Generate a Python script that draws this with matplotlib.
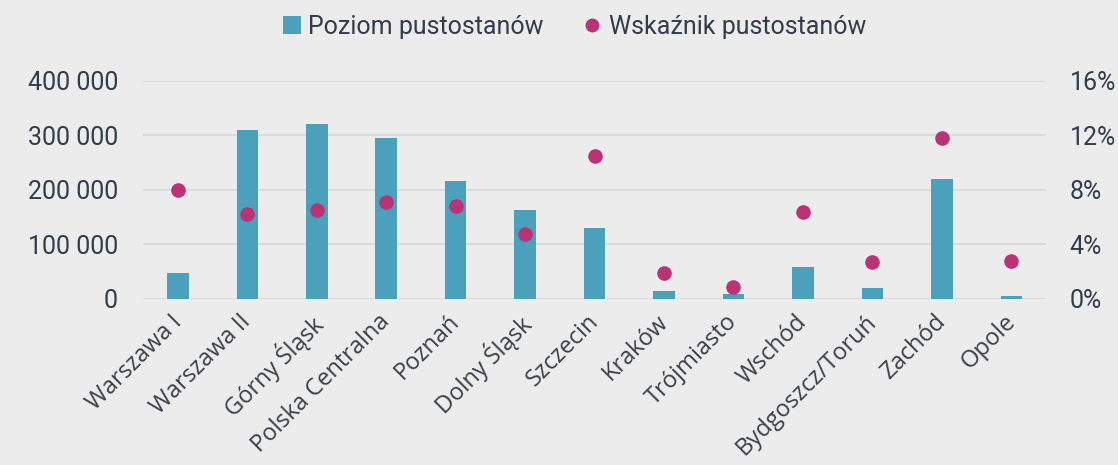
import numpy as np
import matplotlib.pyplot as plt
import matplotlib.transforms as mtransforms
from matplotlib.ticker import FuncFormatter
from matplotlib.lines import Line2D
from matplotlib.patches import Patch

regions = ['Warszawa I', 'Warszawa II', 'Górny Śląsk', 'Polska Centralna', 'Poznań',
           'Dolny Śląsk', 'Szczecin', 'Kraków', 'Trójmiasto', 'Wschód',
           'Bydgoszcz/Toruń', 'Zachód', 'Opole']
vacancy_level = [48000, 310000, 321000, 296000, 216000, 163000, 130000,
                 15000, 10000, 59000, 20000, 220000, 6000]
vacancy_rate = [8.0, 6.2, 6.5, 7.1, 6.8, 4.8, 10.5, 1.9, 0.9, 6.4, 2.7, 11.8, 2.8]

BG = '#ececec'
BAR = '#4ba1bb'
DOT = '#bb3275'
TXT = '#323d4b'
num_font = ['Roboto', 'DejaVu Sans']
lab_font = ['Open Sans', 'DejaVu Sans']

fig = plt.figure(figsize=(11.18, 4.65), dpi=100, facecolor=BG)
ax = fig.add_axes([0.128, 0.357, 0.8076, 0.469])
ax.set_facecolor(BG)
ax2 = ax.twinx()

x = np.arange(len(regions))
ax.bar(x, vacancy_level, width=0.31, color=BAR, zorder=3)
ax2.scatter(x, vacancy_rate, s=110, color=DOT, zorder=4, linewidths=0)

ax.set_xlim(-0.5, len(regions) - 0.5)
ax.set_ylim(0, 400000)
ax2.set_ylim(0, 16)
ax.set_yticks(np.arange(0, 400001, 100000))
ax2.set_yticks(np.arange(0, 17, 4))
ax.yaxis.set_major_formatter(FuncFormatter(lambda v, p: f'{int(v):,}'.replace(',', ' ')))
ax2.yaxis.set_major_formatter(FuncFormatter(lambda v, p: f'{int(v)}%'))

ax.grid(axis='y', color='#d8d8d8', linewidth=1.2, zorder=0)
for a in (ax, ax2):
    for s in a.spines.values():
        s.set_visible(False)
    a.tick_params(length=0, colors=TXT)
ax.tick_params(axis='y', pad=18)
ax2.tick_params(axis='y', pad=17)
for lbl in ax.get_yticklabels() + ax2.get_yticklabels():
    lbl.set_fontfamily(num_font)
    lbl.set_fontsize(18)
    lbl.set_color(TXT)

ax.set_xticks(x)
ax.set_xticklabels(regions, rotation=45, ha='right', rotation_mode='anchor',
                   family=lab_font, fontsize=17, color='#3a3f48')
ax.tick_params(axis='x', pad=8)
shift = mtransforms.ScaledTranslation(-8 / 100, 0, fig.dpi_scale_trans)
for lbl in ax.get_xticklabels():
    lbl.set_transform(lbl.get_transform() + shift)

handles = [Patch(facecolor=BAR, edgecolor='none'),
           Line2D([], [], marker='o', linestyle='none', markersize=10,
                  markerfacecolor=DOT, markeredgewidth=0)]
fig.legend(handles, ['Poziom pustostanów', 'Wskaźnik pustostanów'],
           loc='center', bbox_to_anchor=(0.514, 0.942), ncol=2, frameon=False,
           prop={'family': num_font, 'size': 18}, labelcolor=TXT,
           handlelength=0.7, handleheight=0.7, handletextpad=0.3, columnspacing=1.6)

fig.savefig('out.png', dpi=100, facecolor=BG)
